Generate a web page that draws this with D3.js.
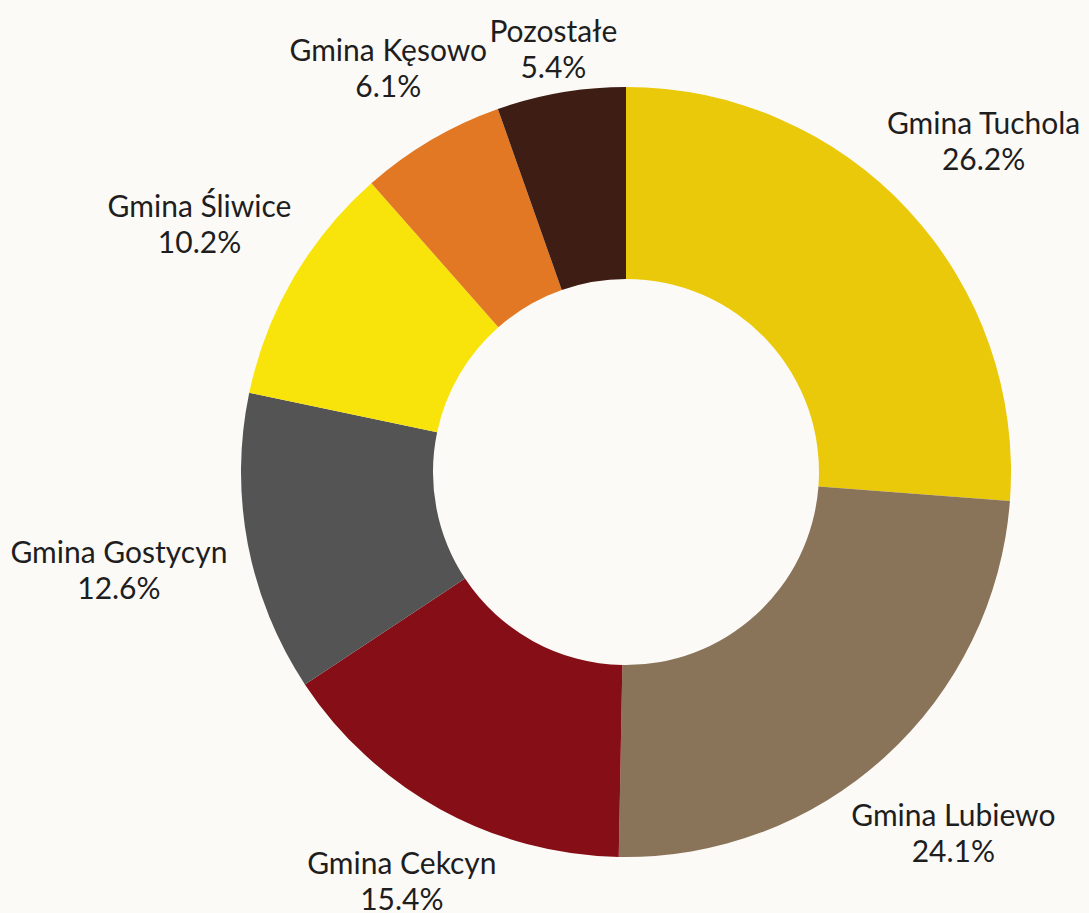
<!DOCTYPE html>
<html><head><meta charset="utf-8">
<script src="https://cdn.jsdelivr.net/npm/d3@7"></script>
<style>html,body{margin:0;padding:0;background:#FCFAF6;overflow:hidden}</style>
</head><body>
<svg id="c" width="1089" height="913"></svg>
<script>
const categories = ["Gmina Tuchola","Gmina Lubiewo","Gmina Cekcyn","Gmina Gostycyn","Gmina Śliwice","Gmina Kęsowo","Pozostałe"];
const values = [26.2, 24.1, 15.4, 12.6, 10.2, 6.1, 5.4];
const colors = ["#EAC80A","#8A7459","#850E17","#545454","#F8E40A","#E27823","#3E1D15"];
const labels = ["26.2%","24.1%","15.4%","12.6%","10.2%","6.1%","5.4%"];

const svg = d3.select("#c");
const W = 1089, H = 913;
const cx = 626, cy = 472, R = 385, r0 = 193;
svg.append("rect").attr("width",W).attr("height",H).attr("fill","#FCFAF6");
const g = svg.append("g").attr("transform",`translate(${cx},${cy})`);
const data = categories.map((c,i)=>({c, v:values[i], col:colors[i], lab:labels[i]}));
const pie = d3.pie().value(d=>d.v).sort(null);
const arcs = pie(data);
const arc = d3.arc().innerRadius(r0).outerRadius(R);
g.selectAll("path").data(arcs).join("path").attr("d",arc).attr("fill",d=>d.data.col);

const fs = 30, lh = 36, gap = 22, topMargin = 12;
arcs.forEach(a=>{
  const th = (a.startAngle+a.endAngle)/2;
  const s = Math.sin(th), c = Math.cos(th);
  const t = g.append("text").attr("font-family","Lato, sans-serif").attr("font-size",fs)
    .attr("fill","#1e1e1e").attr("text-anchor","middle");
  t.append("tspan").attr("x",0).attr("dy",0).text(a.data.c);
  t.append("tspan").attr("x",0).attr("dy",lh).text(a.data.lab);
  const bb = t.node().getBBox();
  const w = bb.width, h = bb.height;
  let D = R + gap + (w/2)*Math.abs(s) + (h/5)*Math.abs(c);
  // keep the label box inside the top edge (slide along the ray)
  const minCy = -cy + topMargin + h/2;
  if (-D*c < minCy && c > 0) D = -minCy / c;
  const px = D*s, py = -D*c;
  t.attr("transform",`translate(${px},${py - bb.y - h/2})`);
});
</script>
</body></html>
